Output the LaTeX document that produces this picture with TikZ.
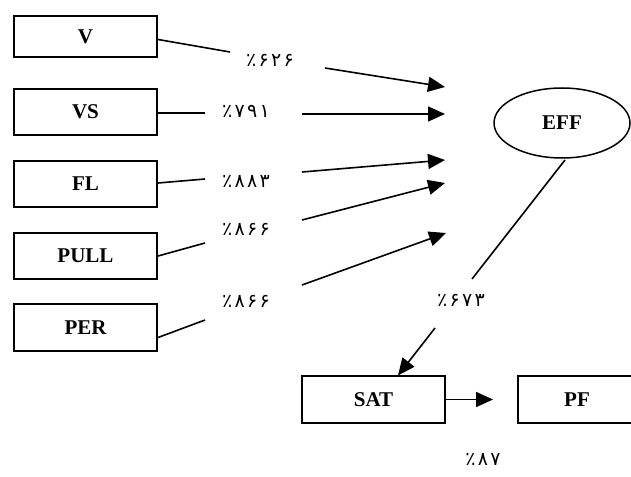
\documentclass[tikz,border=0pt]{standalone}
\usepackage{fontspec}
\setmainfont{Liberation Serif}
\newfontfamily\fafont[LetterSpace=12]{DejaVu Sans}
\usetikzlibrary{arrows.meta,shapes.geometric}
\begin{document}
\begin{tikzpicture}[x=1pt,y=-1pt,
  box/.style={draw,line width=1.7pt,minimum width=143.4pt,minimum height=46.4pt,inner sep=0pt,
    font=\fontsize{21}{22}\selectfont\bfseries},
  oval/.style={draw,ellipse,line width=1.5pt,minimum width=136pt,minimum height=70pt,inner sep=0pt,
    font=\fontsize{21}{22}\selectfont\bfseries},
  conn/.style={line width=1.6pt},
  arr/.style={line width=1.6pt,-{Triangle[length=17pt,width=15pt]}},
  pct/.style={font=\fafont\fontsize{19}{20}\selectfont,inner sep=0pt}]
\clip (0,0) rectangle (631,476);
\fill[white] (0,0) rectangle (631,476);
% boxes
\node[box,minimum height=41.4pt] (V) at (85.5,36.5) {V};
\node[box] (VS) at (85.5,112) {VS};
\node[box] (FL) at (85.5,184) {FL};
\node[box] (PULL) at (85.5,256) {PULL};
\node[box] (PER) at (85.5,327.5) {PER};
\node[box] (SAT) at (373.5,399.5) {SAT};
\node[box,minimum width=126pt] (PF) at (581,399.5) {\hspace*{-8pt}PF};
\node[oval] (EFF) at (562,123) {EFF};
% labels
\node[pct] (lV) at (270,60) {٪۶۲۶};
\node[pct] (lVS) at (246,111) {٪۷۹۱};
\node[pct] (lFL) at (246,181) {٪۸۸۳};
\node[pct] (lPULL) at (246,229) {٪۸۶۶};
\node[pct] (lPER) at (246,301) {٪۸۶۶};
\node[pct] (lEFF) at (461,300) {٪۶۷۳};
\node[pct] (lSAT) at (483,459) {٪۸۷};
% break points
\coordinate (a1) at (230,52);  \coordinate (b1) at (325,68);  \coordinate (t1) at (445,87);
\coordinate (a2) at (205,113); \coordinate (b2) at (302,114); \coordinate (t2) at (445,114);
\coordinate (a3) at (205,179); \coordinate (b3) at (302,172); \coordinate (t3) at (445,160);
\coordinate (a4) at (205,243); \coordinate (b4) at (302,220); \coordinate (t4) at (445,183);
\coordinate (a5) at (205,320); \coordinate (b5) at (302,285); \coordinate (t5) at (446,233);
\coordinate (e0) at (565,160); \coordinate (a6) at (472,279); \coordinate (b6) at (435,328);
\coordinate (t7) at (493,399.5);
% connectors
\draw[conn] ([yshift=-3pt]V.east) -- (a1);
\draw[arr] (b1) -- (t1);
\draw[conn] ([yshift=-1pt]VS.east) -- (a2);
\draw[arr] (b2) -- (t2);
\draw[conn] ([yshift=1pt]FL.east) -- (a3);
\draw[arr] (b3) -- (t3);
\draw[conn] (PULL.east) -- (a4);
\draw[arr] (b4) -- (t4);
\draw[conn] ([yshift=-10pt]PER.east) -- (a5);
\draw[arr] (b5) -- (t5);
\draw[conn] (e0) -- (a6);
\draw[arr] (b6) -- ([xshift=24.5pt]SAT.north);
\draw[arr] (SAT.east) -- (t7);
\end{tikzpicture}
\end{document}
